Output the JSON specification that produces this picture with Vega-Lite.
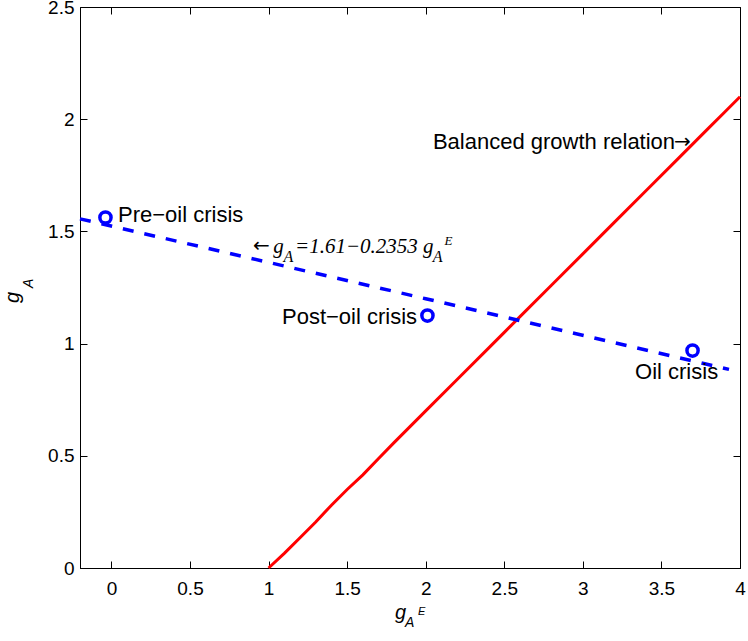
{
  "$schema": "https://vega.github.io/schema/vega-lite/v6.json",
  "width": 660,
  "height": 561,
  "autosize": "none",
  "padding": {"left": 80, "top": 7, "right": 8, "bottom": 73},
  "background": "white",
  "config": {
    "view": {"stroke": "black", "strokeWidth": 1},
    "axis": {
      "domainColor": "black",
      "tickColor": "black",
      "labelColor": "black",
      "labelFont": "Liberation Sans",
      "labelFontSize": 19,
      "grid": false,
      "title": null
    }
  },
  "datasets": {
    "balanced": [
      {"x": 1.0, "y": 0.0}, {"x": 1.1, "y": 0.065}, {"x": 1.2, "y": 0.135}, {"x": 1.3, "y": 0.205},
      {"x": 1.4, "y": 0.28}, {"x": 1.5, "y": 0.35}, {"x": 1.6, "y": 0.415}, {"x": 1.7, "y": 0.488},
      {"x": 1.8, "y": 0.56}, {"x": 1.9, "y": 0.63}, {"x": 2.0, "y": 0.7}, {"x": 2.2, "y": 0.84},
      {"x": 2.4, "y": 0.98}, {"x": 2.5, "y": 1.05}, {"x": 2.6, "y": 1.12}, {"x": 2.8, "y": 1.26},
      {"x": 3.0, "y": 1.4}, {"x": 3.2, "y": 1.54}, {"x": 3.4, "y": 1.68}, {"x": 3.6, "y": 1.82},
      {"x": 3.8, "y": 1.96}, {"x": 3.9, "y": 2.03}, {"x": 4.0, "y": 2.1}
    ],
    "fit": [
      {"x": -0.2, "y": 1.556}, {"x": 2.0, "y": 1.2}, {"x": 3.93, "y": 0.885}
    ],
    "periods": [
      {"x": -0.038, "y": 1.562, "name": "Pre-oil crisis"},
      {"x": 2.011, "y": 1.125, "name": "Post-oil crisis"},
      {"x": 3.698, "y": 0.969, "name": "Oil crisis"}
    ],
    "labelsLeft": [
      {"x": 0.042, "y": 1.542, "t": "Pre−oil crisis"},
      {"x": 3.332, "y": 0.842, "t": "Oil crisis"},
      {"x": 2.046, "y": 1.867, "t": "Balanced growth relation"}
    ],
    "labelsRight": [
      {"x": 1.945, "y": 1.087, "t": "Post−oil crisis"}
    ],
    "arrows": [
      {"x": 3.58, "y": 1.872, "t": "→"},
      {"x": 0.901, "y": 1.41, "t": "←"}
    ],
    "formulaMain": [
      {"x": 1.03, "y": 1.404, "t": "g"},
      {"x": 1.168, "y": 1.404, "t": "=1.61−0.2353"},
      {"x": 1.983, "y": 1.404, "t": "g"}
    ],
    "formulaSub": [
      {"x": 1.095, "y": 1.364, "t": "A"},
      {"x": 2.045, "y": 1.364, "t": "A"}
    ],
    "formulaSup": [
      {"x": 2.12, "y": 1.44, "t": "E"}
    ],
    "titleMain": [
      {"x": 1.805, "y": -0.227, "t": "g"}
    ],
    "titleSub": [
      {"x": 1.868, "y": -0.263, "t": "A"}
    ],
    "titleSup": [
      {"x": 1.951, "y": -0.209, "t": "E"}
    ],
    "ytitleMain": [
      {"x": -0.59, "y": 1.181, "t": "g"}
    ],
    "ytitleSub": [
      {"x": -0.499, "y": 1.248, "t": "A"}
    ]
  },
  "layer": [
    {
      "data": {"name": "balanced"},
      "mark": {"type": "line", "color": "#ff0000", "strokeWidth": 3},
      "encoding": {
        "x": {"field": "x", "type": "quantitative",
              "scale": {"domain": [-0.2, 4], "nice": false, "zero": false},
              "axis": {"orient": "bottom", "values": [0, 0.5, 1, 1.5, 2, 2.5, 3, 3.5, 4], "ticks": false, "labelPadding": 11, "format": "~g", "labelFlush": false}},
        "y": {"field": "y", "type": "quantitative",
              "scale": {"domain": [0, 2.5], "nice": false, "zero": false},
              "axis": {"orient": "left", "values": [0, 0.5, 1, 1.5, 2, 2.5], "ticks": false, "labelPadding": 6, "format": "~g", "labelFlush": false}}
      }
    },
    {
      "data": {"name": "fit"},
      "mark": {"type": "point", "opacity": 0},
      "encoding": {
        "x": {"field": "x", "type": "quantitative",
              "axis": {"orient": "bottom", "offset": -7, "values": [0, 0.5, 1, 1.5, 2, 2.5, 3, 3.5, 4], "tickSize": 7, "tickWidth": 1, "labels": false, "domain": false}},
        "y": {"field": "y", "type": "quantitative",
              "axis": {"orient": "left", "offset": -7, "values": [0, 0.5, 1, 1.5, 2, 2.5], "tickSize": 7, "tickWidth": 1, "labels": false, "domain": false}}
      }
    },
    {
      "data": {"name": "fit"},
      "mark": {"type": "point", "opacity": 0},
      "encoding": {
        "x": {"field": "x", "type": "quantitative",
              "axis": {"orient": "top", "offset": -7, "values": [0, 0.5, 1, 1.5, 2, 2.5, 3, 3.5, 4], "tickSize": 7, "tickWidth": 1, "labels": false, "domain": false}},
        "y": {"field": "y", "type": "quantitative",
              "axis": {"orient": "right", "offset": -7, "values": [0, 0.5, 1, 1.5, 2, 2.5], "tickSize": 7, "tickWidth": 1, "labels": false, "domain": false}}
      }
    },
    {
      "data": {"name": "fit"},
      "mark": {"type": "line", "color": "#0000ff", "strokeWidth": 3.5, "strokeDash": [11, 11]},
      "encoding": {
        "x": {"field": "x", "type": "quantitative", "axis": null},
        "y": {"field": "y", "type": "quantitative", "axis": null}
      }
    },
    {
      "data": {"name": "periods"},
      "mark": {"type": "point", "shape": "circle", "filled": false, "color": "#0000ff", "strokeWidth": 3.5, "size": 125, "opacity": 1},
      "encoding": {
        "x": {"field": "x", "type": "quantitative", "axis": null},
        "y": {"field": "y", "type": "quantitative", "axis": null}
      }
    },
    {
      "data": {"name": "labelsLeft"},
      "mark": {"type": "text", "font": "Liberation Sans", "fontSize": 22, "align": "left", "baseline": "alphabetic", "color": "black"},
      "encoding": {
        "x": {"field": "x", "type": "quantitative", "axis": null},
        "y": {"field": "y", "type": "quantitative", "axis": null},
        "text": {"field": "t"}
      }
    },
    {
      "data": {"name": "labelsRight"},
      "mark": {"type": "text", "font": "Liberation Sans", "fontSize": 22, "align": "right", "baseline": "alphabetic", "color": "black"},
      "encoding": {
        "x": {"field": "x", "type": "quantitative", "axis": null},
        "y": {"field": "y", "type": "quantitative", "axis": null},
        "text": {"field": "t"}
      }
    },
    {
      "data": {"name": "arrows"},
      "mark": {"type": "text", "font": "DejaVu Sans", "fontSize": 20, "align": "left", "baseline": "alphabetic", "color": "black"},
      "encoding": {
        "x": {"field": "x", "type": "quantitative", "axis": null},
        "y": {"field": "y", "type": "quantitative", "axis": null},
        "text": {"field": "t"}
      }
    },
    {
      "data": {"name": "formulaMain"},
      "mark": {"type": "text", "font": "Liberation Serif", "fontStyle": "italic", "fontSize": 21, "align": "left", "baseline": "alphabetic", "color": "black"},
      "encoding": {
        "x": {"field": "x", "type": "quantitative", "axis": null},
        "y": {"field": "y", "type": "quantitative", "axis": null},
        "text": {"field": "t"}
      }
    },
    {
      "data": {"name": "formulaSub"},
      "mark": {"type": "text", "font": "Liberation Serif", "fontStyle": "italic", "fontSize": 16, "align": "left", "baseline": "alphabetic", "color": "black"},
      "encoding": {
        "x": {"field": "x", "type": "quantitative", "axis": null},
        "y": {"field": "y", "type": "quantitative", "axis": null},
        "text": {"field": "t"}
      }
    },
    {
      "data": {"name": "formulaSup"},
      "mark": {"type": "text", "font": "Liberation Serif", "fontStyle": "italic", "fontSize": 13, "align": "left", "baseline": "alphabetic", "color": "black"},
      "encoding": {
        "x": {"field": "x", "type": "quantitative", "axis": null},
        "y": {"field": "y", "type": "quantitative", "axis": null},
        "text": {"field": "t"}
      }
    },
    {
      "data": {"name": "titleMain"},
      "mark": {"type": "text", "font": "Liberation Sans", "fontStyle": "italic", "fontSize": 20, "align": "left", "baseline": "alphabetic", "color": "black"},
      "encoding": {
        "x": {"field": "x", "type": "quantitative", "axis": null},
        "y": {"field": "y", "type": "quantitative", "axis": null},
        "text": {"field": "t"}
      }
    },
    {
      "data": {"name": "titleSub"},
      "mark": {"type": "text", "font": "Liberation Sans", "fontStyle": "italic", "fontSize": 14, "align": "left", "baseline": "alphabetic", "color": "black"},
      "encoding": {
        "x": {"field": "x", "type": "quantitative", "axis": null},
        "y": {"field": "y", "type": "quantitative", "axis": null},
        "text": {"field": "t"}
      }
    },
    {
      "data": {"name": "titleSup"},
      "mark": {"type": "text", "font": "Liberation Sans", "fontStyle": "italic", "fontSize": 11, "align": "left", "baseline": "alphabetic", "color": "black"},
      "encoding": {
        "x": {"field": "x", "type": "quantitative", "axis": null},
        "y": {"field": "y", "type": "quantitative", "axis": null},
        "text": {"field": "t"}
      }
    },
    {
      "data": {"name": "ytitleMain"},
      "mark": {"type": "text", "font": "Liberation Sans", "fontStyle": "italic", "fontSize": 20, "align": "left", "baseline": "alphabetic", "angle": 270, "color": "black"},
      "encoding": {
        "x": {"field": "x", "type": "quantitative", "axis": null},
        "y": {"field": "y", "type": "quantitative", "axis": null},
        "text": {"field": "t"}
      }
    },
    {
      "data": {"name": "ytitleSub"},
      "mark": {"type": "text", "font": "Liberation Sans", "fontStyle": "italic", "fontSize": 14, "align": "left", "baseline": "alphabetic", "angle": 270, "color": "black"},
      "encoding": {
        "x": {"field": "x", "type": "quantitative", "axis": null},
        "y": {"field": "y", "type": "quantitative", "axis": null},
        "text": {"field": "t"}
      }
    }
  ],
  "resolve": {"axis": {"x": "independent", "y": "independent"}}
}
